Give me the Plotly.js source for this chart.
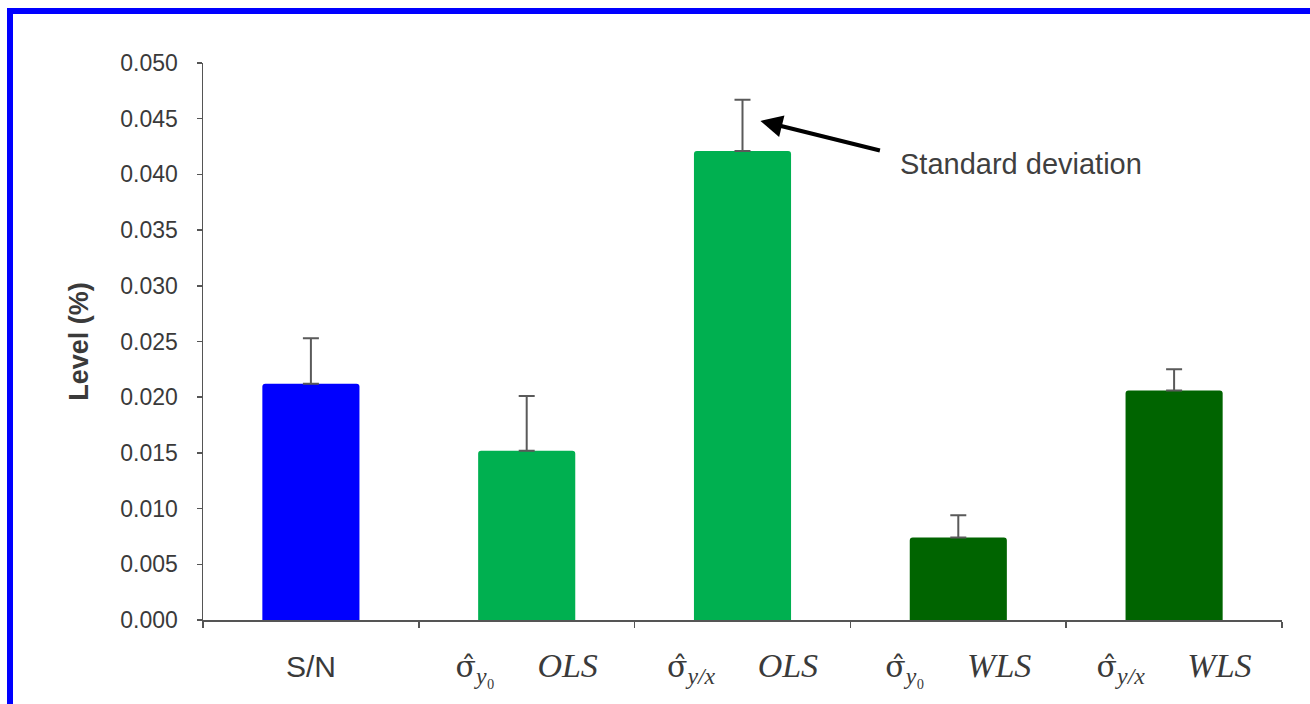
<!DOCTYPE html>
<html>
<head>
<meta charset="utf-8">
<script src="https://cdn.plot.ly/plotly-3.0.1.min.js"></script>
<style>
  html, body { margin: 0; padding: 0; background: #ffffff; }
  #wrap { position: relative; width: 1310px; height: 704px; overflow: hidden; }
  #chart { position: absolute; left: 0; top: 0; width: 1310px; height: 704px; }
  #frame { position: absolute; left: 7px; top: 8px; width: 1320px; height: 720px;
           border-left: 6px solid #0000ff; border-top: 6px solid #0000ff; pointer-events: none; }
</style>
</head>
<body>
<div id="wrap">
  <div id="chart"></div>
  <div id="frame"></div>
</div>
<script>
// ---- data ----
const categories = ["S/N", "sigma_y0 OLS", "sigma_yx OLS", "sigma_y0 WLS", "sigma_yx WLS"];
const levels     = [0.0212, 0.0152, 0.0421, 0.0074, 0.0206];
const stdDevs    = [0.0041, 0.0049, 0.0046, 0.0020, 0.0019];
const barColors  = ["#0000ff", "#00b050", "#00b050", "#006400", "#006400"];
const SP = "\u00a0\u00a0\u00a0\u00a0\u00a0";
const SIG = '<span style="font-family:DejaVu Serif, serif;font-size:30px">σ̂</span>';
const tickLabels = [
  '<span style="font-family:Liberation Sans, Arial, sans-serif;font-size:30px">S/N</span>',
  SIG + '<sub><i>y</i>₀</sub>' + SP + '<i>OLS</i>',
  SIG + '<sub><i>y/x</i></sub>' + SP + '<i>OLS</i>',
  SIG + '<sub><i>y</i>₀</sub>' + SP + '<i>WLS</i>',
  SIG + '<sub><i>y/x</i></sub>' + SP + '<i>WLS</i>'
];
const yTickVals = [0, 0.005, 0.010, 0.015, 0.020, 0.025, 0.030, 0.035, 0.040, 0.045, 0.050];

const trace = {
  type: "bar",
  x: categories,
  y: levels,
  marker: { color: barColors, cornerradius: 3, line: { width: 0 } },
  error_y: {
    type: "data", symmetric: false, array: stdDevs, arrayminus: stdDevs.map(() => 0),
    color: "#5a5a5a", thickness: 2, width: 8
  },
  hoverinfo: "skip"
};

const layout = {
  width: 1310, height: 704,
  margin: { l: 203, r: 28, t: 63, b: 84 },
  paper_bgcolor: "#ffffff", plot_bgcolor: "#ffffff",
  showlegend: false,
  bargap: 0.55,
  font: { family: "Liberation Sans, Arial, sans-serif", color: "#3a3a3a" },
  xaxis: {
    type: "category",
    tickmode: "array", tickvals: categories, ticktext: tickLabels,
    tickson: "boundaries", ticks: "outside", ticklen: 6, tickcolor: "#555", tickwidth: 1.5,
    showline: true, linecolor: "#555", linewidth: 1.5,
    showgrid: false, zeroline: false,
    tickfont: { family: "Liberation Serif, Times New Roman, serif", size: 34, color: "#3a3a3a" },
    ticklabelstandoff: 15,
    automargin: false
  },
  yaxis: {
    range: [0, 0.05],
    tickmode: "array", tickvals: yTickVals,
    tickformat: ".3f",
    ticks: "outside", ticklen: 5, tickcolor: "#555", tickwidth: 1.5,
    showline: true, linecolor: "#555", linewidth: 1.5,
    showgrid: false, zeroline: false,
    tickfont: { family: "Liberation Sans, Arial, sans-serif", size: 23, color: "#3a3a3a" },
    ticklabelstandoff: 14,
    title: { text: "<b>Level (%)</b>", font: { size: 27, color: "#3a3a3a" }, standoff: 24 },
    automargin: false
  },
  annotations: [
    {
      x: 2.083, y: 0.0448, xref: "x", yref: "y",
      text: "", showarrow: true,
      ax: 121, ay: 30,
      arrowhead: 2, arrowsize: 1.1, arrowwidth: 4, arrowcolor: "#000000", standoff: 0
    },
    {
      x: 2.72, y: 0.0409, xref: "x", yref: "y",
      text: "Standard deviation", showarrow: false,
      xanchor: "left", yanchor: "middle",
      font: { family: "Liberation Sans, Arial, sans-serif", size: 29, color: "#3f3f3f" }
    }
  ]
};

Plotly.newPlot("chart", [trace], layout, { staticPlot: true, displayModeBar: false });
</script>
</body>
</html>
